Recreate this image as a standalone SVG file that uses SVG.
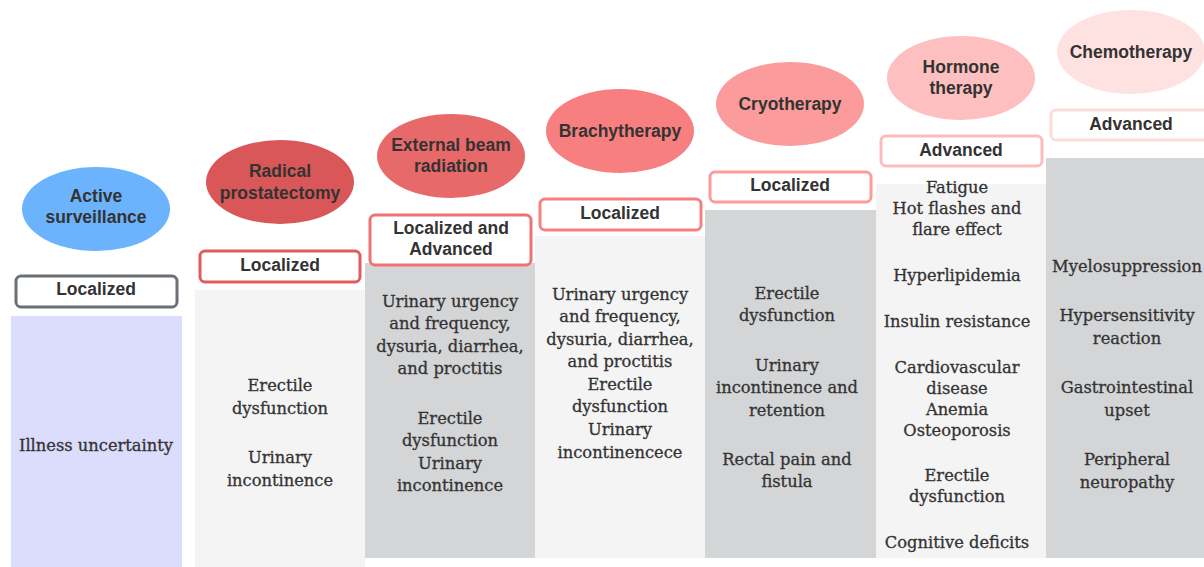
<svg xmlns="http://www.w3.org/2000/svg" width="1204" height="567" viewBox="0 0 1204 567">
<style>
.h{font-family:"Liberation Sans",Arial,sans-serif;font-weight:bold;font-size:17.5px;fill:#333;text-anchor:middle}
.b{font-family:"DejaVu Serif","Liberation Serif",serif;font-size:16.3px;fill:#333;stroke:#333;stroke-width:0.3;text-anchor:middle}
.box{fill:#fff;stroke-width:3}
</style>
<rect width="1204" height="567" fill="#fff"/>
<g id="active-surveillance">
<rect x="11" y="316" width="171" height="251" fill="#dcdcfc"/>
<ellipse cx="96" cy="209" rx="74" ry="42" fill="#6cb3fd"/>
<text class="h" x="96" y="202">Active</text>
<text class="h" x="96" y="223">surveillance</text>
<rect class="box" x="16" y="276" width="161" height="31" rx="5" stroke="#6b7077"/>
<text class="h" x="96" y="295">Localized</text>
<text class="b" x="96" y="451">Illness uncertainty</text>
</g>
<g id="radical-prostatectomy">
<rect x="195" y="290" width="170" height="277" fill="#f4f4f4"/>
<ellipse cx="280" cy="182" rx="74" ry="42" fill="#d95758"/>
<text class="h" x="280" y="177">Radical</text>
<text class="h" x="280" y="199">prostatectomy</text>
<rect class="box" x="200" y="251" width="160" height="31" rx="5" stroke="#e05c5c"/>
<text class="h" x="280" y="271">Localized</text>
<text class="b" x="280" y="391">Erectile</text>
<text class="b" x="280" y="414">dysfunction</text>
<text class="b" x="280" y="463">Urinary</text>
<text class="b" x="280" y="486">incontinence</text>
</g>
<g id="external-beam-radiation">
<rect x="365" y="263" width="170" height="295" fill="#d4d5d7"/>
<ellipse cx="451" cy="156" rx="74" ry="42" fill="#e76969"/>
<text class="h" x="451" y="151">External beam</text>
<text class="h" x="451" y="172">radiation</text>
<rect class="box" x="370" y="215" width="161" height="50" rx="5" stroke="#ee7272"/>
<text class="h" x="451" y="234">Localized and</text>
<text class="h" x="451" y="255">Advanced</text>
<text class="b" x="450" y="307">Urinary urgency</text>
<text class="b" x="450" y="329">and frequency,</text>
<text class="b" x="450" y="352">dysuria, diarrhea,</text>
<text class="b" x="450" y="374">and proctitis</text>
<text class="b" x="450" y="424">Erectile</text>
<text class="b" x="450" y="446">dysfunction</text>
<text class="b" x="450" y="469">Urinary</text>
<text class="b" x="450" y="491">incontinence</text>
</g>
<g id="brachytherapy">
<rect x="535" y="236" width="170" height="322" fill="#f4f4f4"/>
<ellipse cx="620" cy="131" rx="74" ry="42" fill="#f77f7f"/>
<text class="h" x="620" y="137">Brachytherapy</text>
<rect class="box" x="540" y="199" width="161" height="31" rx="5" stroke="#f68080"/>
<text class="h" x="620" y="219">Localized</text>
<text class="b" x="620" y="300">Urinary urgency</text>
<text class="b" x="620" y="322">and frequency,</text>
<text class="b" x="620" y="345">dysuria, diarrhea,</text>
<text class="b" x="620" y="367">and proctitis</text>
<text class="b" x="620" y="390">Erectile</text>
<text class="b" x="620" y="412">dysfunction</text>
<text class="b" x="620" y="435">Urinary</text>
<text class="b" x="620" y="458">incontinencece</text>
</g>
<g id="cryotherapy">
<rect x="705" y="210" width="171" height="348" fill="#d4d5d7"/>
<ellipse cx="790" cy="104" rx="74" ry="42" fill="#fb9b9b"/>
<text class="h" x="790" y="110">Cryotherapy</text>
<rect class="box" x="710" y="172" width="161" height="30" rx="5" stroke="#fb9b9b"/>
<text class="h" x="790" y="191">Localized</text>
<text class="b" x="787" y="299">Erectile</text>
<text class="b" x="787" y="321">dysfunction</text>
<text class="b" x="787" y="371">Urinary</text>
<text class="b" x="787" y="393">incontinence and</text>
<text class="b" x="787" y="416">retention</text>
<text class="b" x="787" y="465">Rectal pain and</text>
<text class="b" x="787" y="487">fistula</text>
</g>
<g id="hormone-therapy">
<rect x="876" y="184" width="170" height="374" fill="#f4f4f4"/>
<ellipse cx="961" cy="78" rx="74" ry="42" fill="#fdbfbf"/>
<text class="h" x="961" y="73">Hormone</text>
<text class="h" x="961" y="94">therapy</text>
<rect class="box" x="881" y="136" width="161" height="30" rx="5" stroke="#fcbcbc"/>
<text class="h" x="961" y="156">Advanced</text>
<text class="b" x="957" y="193">Fatigue</text>
<text class="b" x="957" y="214">Hot flashes and</text>
<text class="b" x="957" y="235">flare effect</text>
<text class="b" x="957" y="281">Hyperlipidemia</text>
<text class="b" x="957" y="327">Insulin resistance</text>
<text class="b" x="957" y="373">Cardiovascular</text>
<text class="b" x="957" y="394">disease</text>
<text class="b" x="957" y="415">Anemia</text>
<text class="b" x="957" y="436">Osteoporosis</text>
<text class="b" x="957" y="481">Erectile</text>
<text class="b" x="957" y="502">dysfunction</text>
<text class="b" x="957" y="548">Cognitive deficits</text>
</g>
<g id="chemotherapy">
<rect x="1046" y="158" width="158" height="400" fill="#d4d5d7"/>
<ellipse cx="1131" cy="52" rx="74" ry="42" fill="#fee1e1"/>
<text class="h" x="1131" y="58">Chemotherapy</text>
<rect class="box" x="1051" y="110" width="161" height="30" rx="5" stroke="#fddcdc"/>
<text class="h" x="1131" y="130">Advanced</text>
<text class="b" x="1127" y="272">Myelosuppression</text>
<text class="b" x="1127" y="321">Hypersensitivity</text>
<text class="b" x="1127" y="344">reaction</text>
<text class="b" x="1127" y="393">Gastrointestinal</text>
<text class="b" x="1127" y="416">upset</text>
<text class="b" x="1127" y="465">Peripheral</text>
<text class="b" x="1127" y="488">neuropathy</text>
</g>
<g id="connectors"/>
</svg>
